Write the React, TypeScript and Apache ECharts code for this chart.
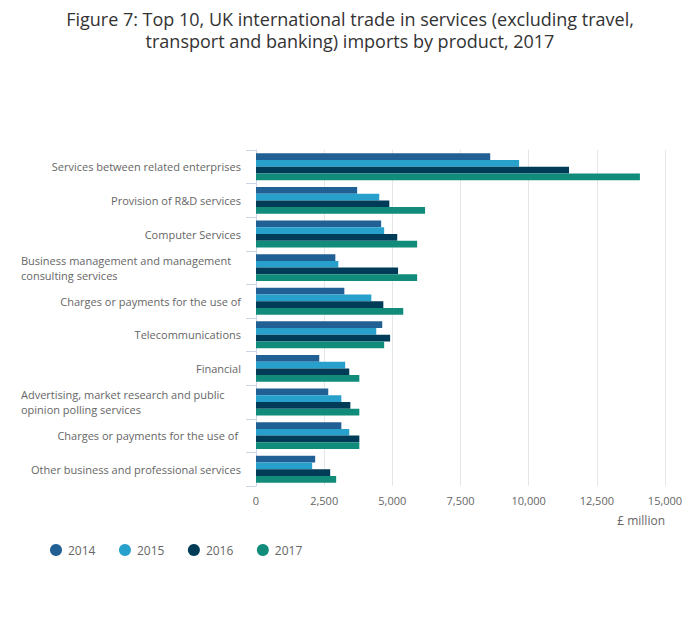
import React, { useEffect, useRef } from "react";
import * as echarts from "echarts";

const categories = [
  "Services between related enterprises",
  "Provision of R&D services",
  "Computer Services",
  "Business management and management\nconsulting services",
  "Charges or payments for the use of",
  "Telecommunications",
  "Financial",
  "Advertising, market research and public\nopinion polling services",
  "Charges or payments for the use of ",
  "Other business and professional services",
];

const years = ["2014", "2015", "2016", "2017"];

const values2014 = [8590, 3710, 4590, 2910, 3240, 4630, 2320, 2650, 3130, 2170];
const values2015 = [9650, 4520, 4700, 3020, 4230, 4410, 3270, 3130, 3420, 2060];
const values2016 = [11480, 4890, 5180, 5210, 4670, 4920, 3420, 3460, 3790, 2720];
const values2017 = [14080, 6200, 5910, 5910, 5400, 4700, 3790, 3790, 3790, 2940];

const xTicks = { min: 0, max: 15000, interval: 2500 };

const colors = ["#206095", "#27a0cc", "#003c57", "#118c7b"];

export default function App() {
  const ref = useRef<HTMLDivElement>(null);

  useEffect(() => {
    if (!ref.current) return;
    const chart = echarts.init(ref.current, undefined, { renderer: "svg" });
    const seriesValues = [values2014, values2015, values2016, values2017];
    const font = "'Open Sans', sans-serif";
    chart.setOption({
      animation: false,
      color: colors,
      title: {
        text:
          "Figure 7: Top 10, UK international trade in services (excluding travel,\ntransport and banking) imports by product, 2017",
        left: "center",
        top: 3,
        textStyle: {
          fontFamily: font,
          fontSize: 18,
          fontWeight: "normal",
          color: "#333333",
          lineHeight: 22,
        },
      },
      grid: { left: 256, right: 35, top: 150, bottom: 149 },
      legend: {
        left: 45,
        top: 539,
        icon: "circle",
        itemWidth: 14,
        itemHeight: 12,
        itemGap: 23.5,
        textStyle: { fontFamily: font, fontSize: 12, color: "#666666" },
        data: years,
      },
      xAxis: {
        type: "value",
        min: xTicks.min,
        max: xTicks.max,
        interval: xTicks.interval,
        axisLine: { show: false },
        axisTick: { show: false },
        splitLine: { lineStyle: { color: "#e6e6e6", width: 1 } },
        axisLabel: {
          margin: 9,
          fontFamily: font,
          fontSize: 11,
          color: "#666666",
          formatter: (v: number) => v.toLocaleString("en-GB"),
        },
      },
      yAxis: {
        type: "category",
        inverse: true,
        data: categories,
        axisLine: { show: true, lineStyle: { color: "#ccd6eb" } },
        axisTick: { show: true, length: 10, lineStyle: { color: "#ccd6eb" } },
        splitLine: { show: false },
        axisLabel: {
          margin: 15,
          fontFamily: font,
          fontSize: 11,
          color: "#666666",
          formatter: (v: string) => {
            if (v.indexOf("\n") >= 0) {
              return v
                .split("\n")
                .map((l) => `{l|${l}}`)
                .join("\n");
            }
            return `{r|${v}}`;
          },
          rich: {
            l: {
              width: 220,
              align: "left",
              fontFamily: font,
              fontSize: 11,
              color: "#666666",
              lineHeight: 15,
            },
            r: {
              fontFamily: font,
              fontSize: 11,
              color: "#666666",
              lineHeight: 15,
            },
          },
        },
      },
      graphic: [
        {
          type: "text",
          right: 35,
          top: 514,
          style: {
            text: "£ million",
            fontFamily: font,
            fontSize: 12,
            fill: "#666666",
          },
        },
      ],
      series: years.map((y, i) => ({
        name: y,
        type: "bar",
        data: seriesValues[i],
        barGap: "0%",
        barCategoryGap: "20%",
        itemStyle: { color: colors[i] },
      })),
    });
    return () => chart.dispose();
  }, []);

  return (
    <div
      ref={ref}
      style={{ position: "absolute", left: 0, top: 0, width: 700, height: 635 }}
    />
  );
}
